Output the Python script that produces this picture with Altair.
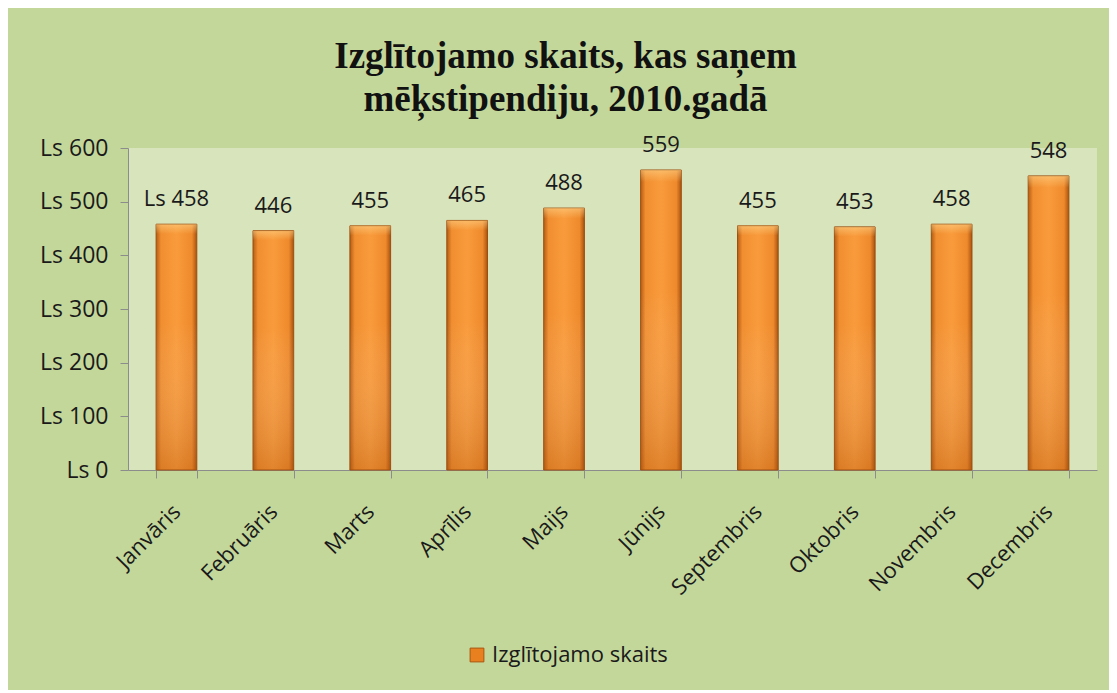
import altair as alt
import pandas as pd

months = ["Janvāris", "Februāris", "Marts", "Aprīlis", "Maijs", "Jūnijs",
          "Septembris", "Oktobris", "Novembris", "Decembris"]
values = [458, 446, 455, 465, 488, 559, 455, 453, 458, 548]
series_name = "Izglītojamo skaits"
y_ticks = [0, 100, 200, 300, 400, 500, 600]

labels = [("Ls " if i == 0 else "") + str(v) for i, v in enumerate(values)]
df = pd.DataFrame({"month": months, "value": values, "label": labels,
                   "series": [series_name] * len(months)})

FONT = "Open Sans"
TXT = "#1a1a1a"

base = alt.Chart(df)

x_enc = alt.X("month:N", sort=months, title=None,
              scale=alt.Scale(paddingInner=0.58, paddingOuter=0.29),
              axis=alt.Axis(labelAngle=-45, labelAlign="right", labelBaseline="middle",
                            labelFontSize=22, labelFont=FONT, labelColor=TXT,
                            labelPadding=30, tickBand="extent", tickSize=8,
                            tickColor="#8c8c8c", domainColor="#8c8c8c", grid=False))
y_enc = alt.Y("value:Q", title=None,
              scale=alt.Scale(domain=[0, 600], nice=False),
              axis=alt.Axis(values=y_ticks, labelExpr="'Ls ' + datum.value",
                            labelFontSize=23, labelFont=FONT, labelColor=TXT,
                            tickSize=8, tickColor="#8c8c8c", domainColor="#8c8c8c",
                            grid=False, labelPadding=12))

bars = base.mark_bar(
    stroke="#9c4f0e", strokeWidth=1,
    color=alt.Gradient(gradient="linear",
                       stops=[alt.GradientStop(color="#b55c14", offset=0),
                              alt.GradientStop(color="#f08e30", offset=0.12),
                              alt.GradientStop(color="#f99b3c", offset=0.5),
                              alt.GradientStop(color="#ee8a2c", offset=0.88),
                              alt.GradientStop(color="#a9520f", offset=1)],
                       x1=0, x2=1, y1=0, y2=0)
).encode(x=x_enc, y=y_enc)

shade = base.mark_bar(
    strokeWidth=0,
    color=alt.Gradient(gradient="linear",
                       stops=[alt.GradientStop(color="rgba(255,214,140,0.55)", offset=0),
                              alt.GradientStop(color="rgba(255,214,140,0.0)", offset=0.04),
                              alt.GradientStop(color="rgba(255,255,255,0.0)", offset=0.4),
                              alt.GradientStop(color="rgba(170,80,10,0.30)", offset=1)],
                       x1=0, x2=0, y1=0, y2=1)
).encode(x=alt.X("month:N", sort=months), y=alt.Y("value:Q"))

legend_layer = base.mark_square(opacity=0, size=1).encode(
    x=alt.X("month:N", sort=months), y=alt.Y("value:Q"),
    fill=alt.Fill("series:N", scale=alt.Scale(range=["#e8801f"]),
                  legend=alt.Legend(title=None, orient="none", legendX=338, legendY=496,
                                    symbolType="square", symbolSize=190,
                                    symbolOpacity=1, labelLimit=500,
                                    symbolStrokeColor="#a8550e", symbolStrokeWidth=1,
                                    labelFontSize=22, labelFont=FONT, labelColor=TXT))
)

text = base.mark_text(baseline="bottom", dy=-13, fontSize=22, font=FONT,
                      color=TXT).encode(
    x=alt.X("month:N", sort=months),
    y=alt.Y("value:Q"),
    text="label:N"
)

chart = alt.layer(bars, shade, legend_layer, text).properties(
    width=969, height=322,
    title=alt.TitleParams(
        text=["Izglītojamo skaits, kas saņem", "mēķstipendiju, 2010.gadā"],
        font="Liberation Serif", fontSize=37, fontWeight="bold", color="#111111",
        anchor="middle", offset=15, dx=-47, lineHeight=43),
    autosize=alt.AutoSizeParams(type="none"),
    padding={"left": 120, "top": 140, "right": 12, "bottom": 220},
    background="#c4d79b"
).configure_view(fill="#d8e4bc", stroke=None)

chart.save("out.html", embed_options={"renderer": "svg", "actions": False})
